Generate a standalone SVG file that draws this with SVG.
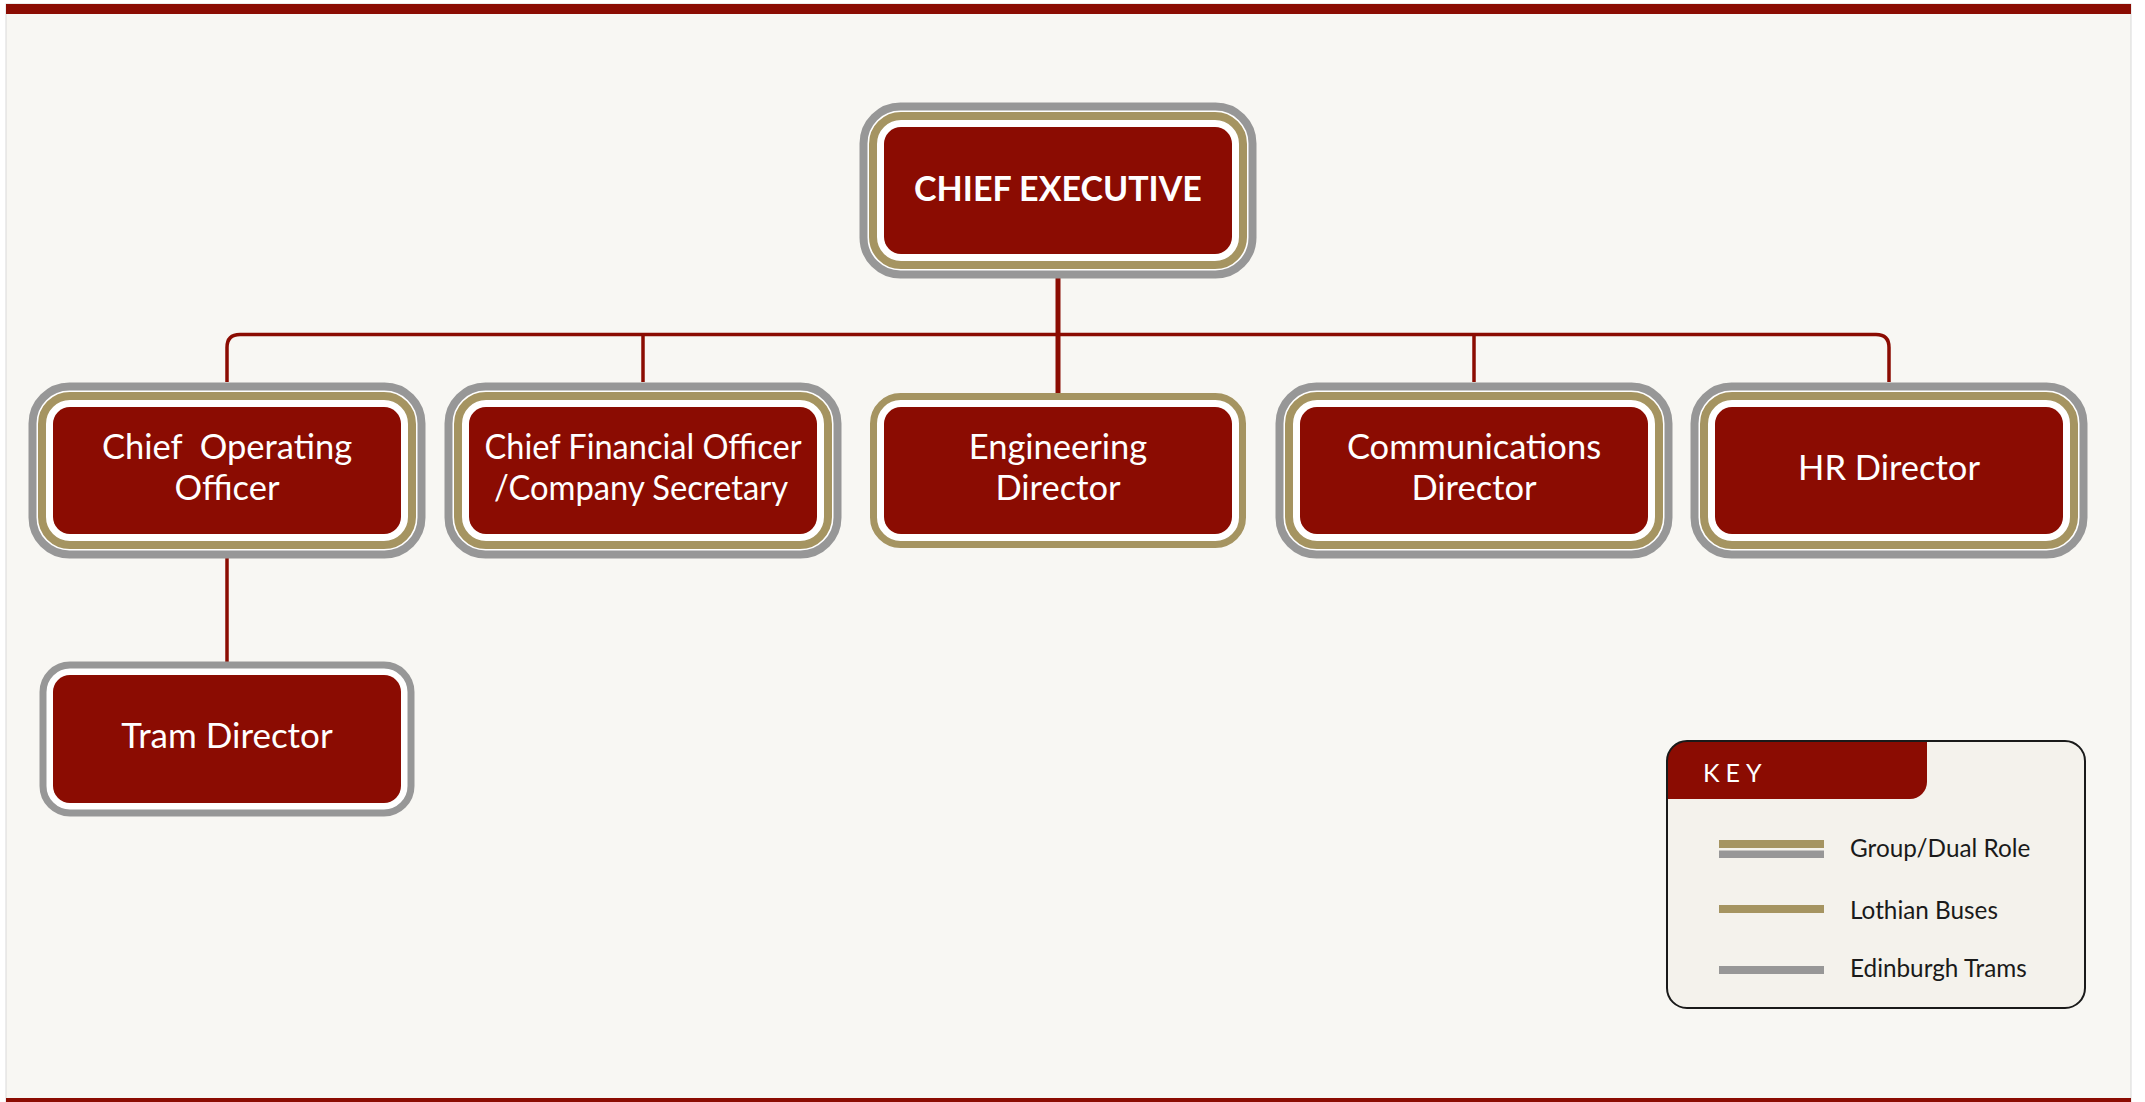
<svg xmlns="http://www.w3.org/2000/svg" width="2145" height="1102" viewBox="0 0 2145 1102">
  <style>
    .red { fill: #8b0c02; }
    .ring-gray { fill: #ffffff; stroke: #979797; stroke-width: 8; }
    .ring-gold { fill: #ffffff; stroke: #a59461; stroke-width: 8; }
    .ring-gray1 { fill: #ffffff; stroke: #979797; stroke-width: 7; }
    .ring-gold1 { fill: #ffffff; stroke: #a59461; stroke-width: 7; }
    .lbl { font-family: Lato, "Liberation Sans", sans-serif; font-size: 34.5px; fill: #ffffff; text-anchor: middle; }
    .lblb { font-family: Lato, "Liberation Sans", sans-serif; font-size: 34px; font-weight: bold; fill: #ffffff; text-anchor: middle; }
    .conn { fill: none; stroke: #8b0c02; stroke-width: 3.5; }
    .keytxt { font-family: Lato, "Liberation Sans", sans-serif; font-size: 24.3px; fill: #1a1a1a; }
  </style>
  <rect x="0" y="0" width="2145" height="1102" fill="#ffffff"/>
  <rect x="6" y="4" width="2125" height="1100" fill="#f8f7f3" stroke="#d9d9d9" stroke-width="1"/>
  <rect x="6" y="4" width="2125" height="10" class="red"/>
  <rect x="6" y="1098" width="2125" height="6" class="red"/>

  <g id="connectors">
    <path class="conn" d="M227 382 V347.5 Q227 334.5 240 334.5 H1876 Q1889 334.5 1889 347.5 V382"/>
    <line class="conn" x1="643" y1="334.5" x2="643" y2="382"/>
    <line class="conn" x1="1474" y1="334.5" x2="1474" y2="382"/>
    <line class="conn" x1="1058" y1="278" x2="1058" y2="393" style="stroke-width:5"/>
    <line class="conn" x1="227" y1="558" x2="227" y2="662"/>
  </g>

  <g id="chief-executive">
    <rect class="ring-gray" x="863.5" y="106.5" width="389" height="168" rx="37"/>
    <rect class="ring-gold" x="873" y="116" width="370" height="149" rx="28"/>
    <rect class="red" x="884" y="127" width="348" height="127" rx="17"/>
    <text class="lblb" x="1058" y="201">CHIEF EXECUTIVE</text>
  </g>

  <g id="chief-operating-officer">
    <rect class="ring-gray" x="32.5" y="386.5" width="389" height="168" rx="37"/>
    <rect class="ring-gold" x="42" y="396" width="370" height="149" rx="28"/>
    <rect class="red" x="53" y="407" width="348" height="127" rx="17"/>
    <text class="lbl" x="227" y="459" xml:space="preserve">Chief  Operating</text>
    <text class="lbl" x="227" y="500">Officer</text>
  </g>

  <g id="chief-financial-officer">
    <rect class="ring-gray" x="448.5" y="386.5" width="389" height="168" rx="37"/>
    <rect class="ring-gold" x="458" y="396" width="370" height="149" rx="28"/>
    <rect class="red" x="469" y="407" width="348" height="127" rx="17"/>
    <text class="lbl" x="643" y="459" textLength="317" lengthAdjust="spacingAndGlyphs">Chief Financial Officer</text>
    <text class="lbl" x="641" y="500" textLength="294" lengthAdjust="spacingAndGlyphs">/Company Secretary</text>
  </g>

  <g id="engineering-director">
    <rect class="ring-gold1" x="873.5" y="396.5" width="369" height="148" rx="27"/>
    <rect class="red" x="884" y="407" width="348" height="127" rx="17"/>
    <text class="lbl" x="1058" y="459">Engineering</text>
    <text class="lbl" x="1058" y="500">Director</text>
  </g>

  <g id="communications-director">
    <rect class="ring-gray" x="1279.5" y="386.5" width="389" height="168" rx="37"/>
    <rect class="ring-gold" x="1289" y="396" width="370" height="149" rx="28"/>
    <rect class="red" x="1300" y="407" width="348" height="127" rx="17"/>
    <text class="lbl" x="1474" y="459">Communications</text>
    <text class="lbl" x="1474" y="500">Director</text>
  </g>

  <g id="hr-director">
    <rect class="ring-gray" x="1694.5" y="386.5" width="389" height="168" rx="37"/>
    <rect class="ring-gold" x="1704" y="396" width="370" height="149" rx="28"/>
    <rect class="red" x="1715" y="407" width="348" height="127" rx="17"/>
    <text class="lbl" x="1889" y="480">HR Director</text>
  </g>

  <g id="tram-director">
    <rect class="ring-gray1" x="43" y="665" width="368" height="148" rx="27"/>
    <rect class="red" x="53" y="675" width="348" height="128" rx="17"/>
    <text class="lbl" x="227" y="748" style="font-size:35px">Tram Director</text>
  </g>

  <g id="key">
    <rect x="1667" y="741" width="418" height="267" rx="20" fill="#f4f2ec"/>
    <path class="red" d="M1667 799 V761 A20 20 0 0 1 1687 741 H1927 V782 A17 17 0 0 1 1910 799 Z"/>
    <rect x="1667" y="741" width="418" height="267" rx="20" fill="none" stroke="#1a1a1a" stroke-width="2"/>
    <text x="1703" y="782" font-family="Lato, 'Liberation Sans', sans-serif" font-size="25" letter-spacing="6" fill="#ffffff">KEY</text>
    <rect x="1719" y="840" width="105" height="8" fill="#a59461"/>
    <rect x="1719" y="850.5" width="105" height="7.5" fill="#979797"/>
    <text class="keytxt" x="1850" y="857">Group/Dual Role</text>
    <rect x="1719" y="905" width="105" height="8" fill="#a59461"/>
    <text class="keytxt" x="1850" y="919">Lothian Buses</text>
    <rect x="1719" y="966" width="105" height="8" fill="#979797"/>
    <text class="keytxt" x="1850" y="977">Edinburgh Trams</text>
  </g>
</svg>
